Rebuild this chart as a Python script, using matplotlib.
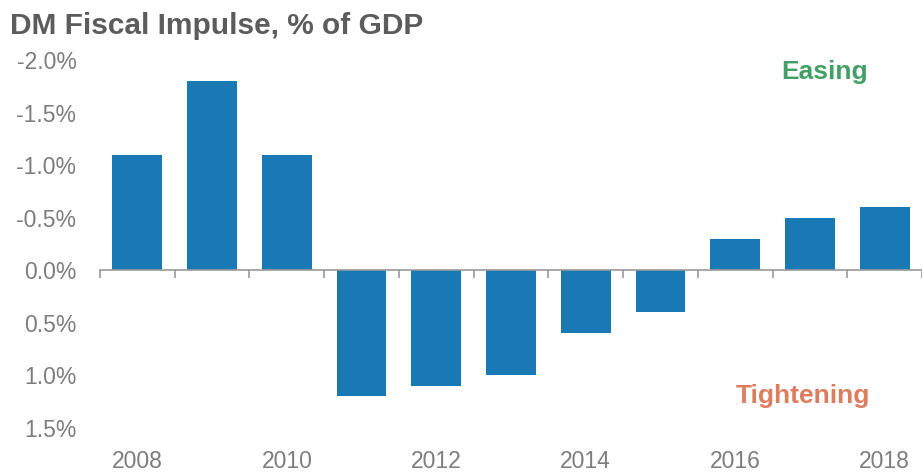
import matplotlib
matplotlib.use("Agg")
import matplotlib.pyplot as plt
import numpy as np

years = ["2008", "2009", "2010", "2011", "2012", "2013", "2014", "2015", "2016", "2017", "2018"]
impulse = [-1.1, -1.8, -1.1, 1.2, 1.1, 1.0, 0.6, 0.4, -0.3, -0.5, -0.6]
ytick_vals = [-2.0, -1.5, -1.0, -0.5, 0.0, 0.5, 1.0, 1.5]
ytick_labels = ["-2.0%", "-1.5%", "-1.0%", "-0.5%", "0.0%", "0.5%", "1.0%", "1.5%"]

plt.rcParams['font.family'] = ['Liberation Sans', 'DejaVu Sans']

W, H = 922, 475
fig = plt.figure(figsize=(W / 100, H / 100), dpi=100)
ax = fig.add_axes([100 / W, 47 / H, 1 - 100 / W, 368 / H])

x = np.arange(len(years))
ax.bar(x, impulse, width=0.667, color="#1879b4", zorder=2)

ax.set_ylim(1.5, -2.0)
ax.set_xlim(-0.5, -0.5 + 822 / 75.5)

ax.set_yticks(ytick_vals)
ax.set_yticklabels(ytick_labels)
ax.tick_params(axis='y', length=0, pad=17, labelsize=16.5, labelcolor="#7d7d7d")

for s in ["left", "right", "top"]:
    ax.spines[s].set_visible(False)
ax.spines["bottom"].set_position(("data", 0))
ax.spines["bottom"].set_color("#9a9a9a")
ax.spines["bottom"].set_linewidth(1.2)
ax.spines["bottom"].set_zorder(3)

ax.set_xticks(np.arange(len(years) + 1) - 0.5)
ax.set_xticklabels([])
ax.tick_params(axis='x', direction='out', length=6, width=1.2, color="#9a9a9a")

sec = ax.secondary_xaxis(0.0)
sec.set_xticks(x[::2])
sec.set_xticklabels(years[::2])
sec.tick_params(length=0, pad=16, labelsize=16.5, labelcolor="#7d7d7d")
sec.spines["bottom"].set_visible(False)

def px(xp, yp):
    return xp / W, 1 - yp / H

fig.text(*px(825, 72), "Easing", ha="center", va="center",
         fontsize=19, fontweight="bold", color="#42a066")
fig.text(*px(803, 396), "Tightening", ha="center", va="center",
         fontsize=19, fontweight="bold", color="#de7c5e")

fig.text(*px(10, 26), "DM Fiscal Impulse, % of GDP", ha="left", va="center",
         fontsize=21.5, fontweight="bold", color="#5c5c5c")

fig.savefig("out.png", dpi=100)
